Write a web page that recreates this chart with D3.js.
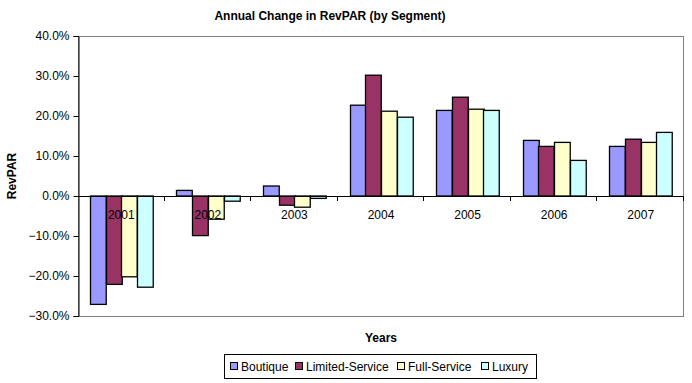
<!DOCTYPE html>
<html><head><meta charset="utf-8">
<script src="https://cdn.jsdelivr.net/npm/d3@7"></script>
<style>
body{margin:0;background:#fff;}
svg{display:block;font-family:"Liberation Sans",Arial,sans-serif;}
</style></head>
<body>
<svg id="c" width="692" height="383"></svg>
<script>
const years = ["2001","2002","2003","2004","2005","2006","2007"];
const seriesNames = ["Boutique","Limited-Service","Full-Service","Luxury"];
const boutique = [-27.1, 1.4, 2.5, 22.7, 21.4, 13.9, 12.4];
const limitedService = [-22.1, -9.9, -2.3, 30.2, 24.7, 12.4, 14.2];
const fullService = [-20.2, -5.8, -2.8, 21.2, 21.7, 13.4, 13.4];
const luxury = [-22.8, -1.3, -0.6, 19.7, 21.4, 8.9, 15.9];
const colors = ["#9999FF","#993366","#FFFFCC","#CCFFFF"];
const yTicks = [-30,-20,-10,0,10,20,30,40];

const seriesValues = [boutique, limitedService, fullService, luxury];
const svg = d3.select("#c");
const L=78, R=684, T=36, B=316;

const x0 = d3.scaleBand().domain(years).range([L,R]).padding(0);
const x1 = d3.scaleBand().domain(seriesNames).range([0,x0.bandwidth()]).paddingInner(0).paddingOuter(0.75);
const y = d3.scaleLinear().domain([-30,40]).range([B,T]);
const color = d3.scaleOrdinal().domain(seriesNames).range(colors);

// plot border (gray)
svg.append("rect").attr("x",L+0.5).attr("y",T+0.5).attr("width",R-L-1).attr("height",B-T)
  .attr("fill","#fff").attr("stroke","#808080").attr("stroke-width",1);

// title
svg.append("text").attr("x",330).attr("y",20).attr("text-anchor","middle")
  .attr("font-size","12px").attr("font-weight","bold").text("Annual Change in RevPAR (by Segment)");

// bars
const data = [];
years.forEach((yr,i)=>seriesNames.forEach((s,j)=>data.push({yr,s,v:seriesValues[j][i]})));
svg.append("g").selectAll("rect").data(data).join("rect")
  .attr("x",d=>Math.round(x0(d.yr)+x1(d.s))+0.5)
  .attr("width",x1.bandwidth())
  .attr("y",d=>y(Math.max(0,d.v)))
  .attr("height",d=>Math.abs(y(d.v)-y(0)))
  .attr("fill",d=>color(d.s))
  .attr("stroke","#000").attr("stroke-width",1.3);

// y axis
const yAxis = d3.axisLeft(y).tickValues(yTicks).tickSize(5).tickPadding(4)
  .tickFormat(d=>d3.format(".1f")(d)+"%");
const ya = svg.append("g").attr("transform",`translate(${L+0.5},0)`).call(yAxis);
ya.selectAll("text").attr("font-size","12px").attr("font-family","Liberation Sans, Arial, sans-serif").attr("fill","#000");
ya.selectAll("line,path").attr("stroke","#000");

// zero axis with category boundary ticks
const xa = svg.append("g");
xa.append("line").attr("x1",L).attr("x2",R).attr("y1",y(0)+0.5).attr("y2",y(0)+0.5).attr("stroke","#000");
xa.selectAll("line.t").data(years.slice(1).concat(["end"])).join("line").attr("class","t")
  .attr("x1",(d,i)=>Math.round(i<years.length-1?x0(d):R)-0.5)
  .attr("x2",(d,i)=>Math.round(i<years.length-1?x0(d):R)-0.5)
  .attr("y1",y(0)).attr("y2",y(0)+5).attr("stroke","#000");
xa.selectAll("text").data(years).join("text")
  .attr("x",d=>x0(d)+x0.bandwidth()/2).attr("y",y(0)+23)
  .attr("text-anchor","middle").attr("font-size","12px").text(d=>d);

// axis titles
svg.append("text").attr("transform","translate(16,176) rotate(-90)").attr("text-anchor","middle")
  .attr("font-size","12px").attr("font-weight","bold").text("RevPAR");
svg.append("text").attr("x",381).attr("y",342).attr("text-anchor","middle")
  .attr("font-size","12px").attr("font-weight","bold").text("Years");

// legend
const lg = svg.append("g");
lg.append("rect").attr("x",224.5).attr("y",354.5).attr("width",312).attr("height",24)
  .attr("fill","#fff").attr("stroke","#000");
const legX = [230, 295, 397, 481];
seriesNames.forEach((s,i)=>{
  lg.append("rect").attr("x",legX[i]+0.5).attr("y",362.5).attr("width",7).attr("height",7)
    .attr("fill",colors[i]).attr("stroke","#000");
  lg.append("text").attr("x",legX[i]+11).attr("y",371).attr("font-size","12px").text(s);
});
</script>
</body></html>
